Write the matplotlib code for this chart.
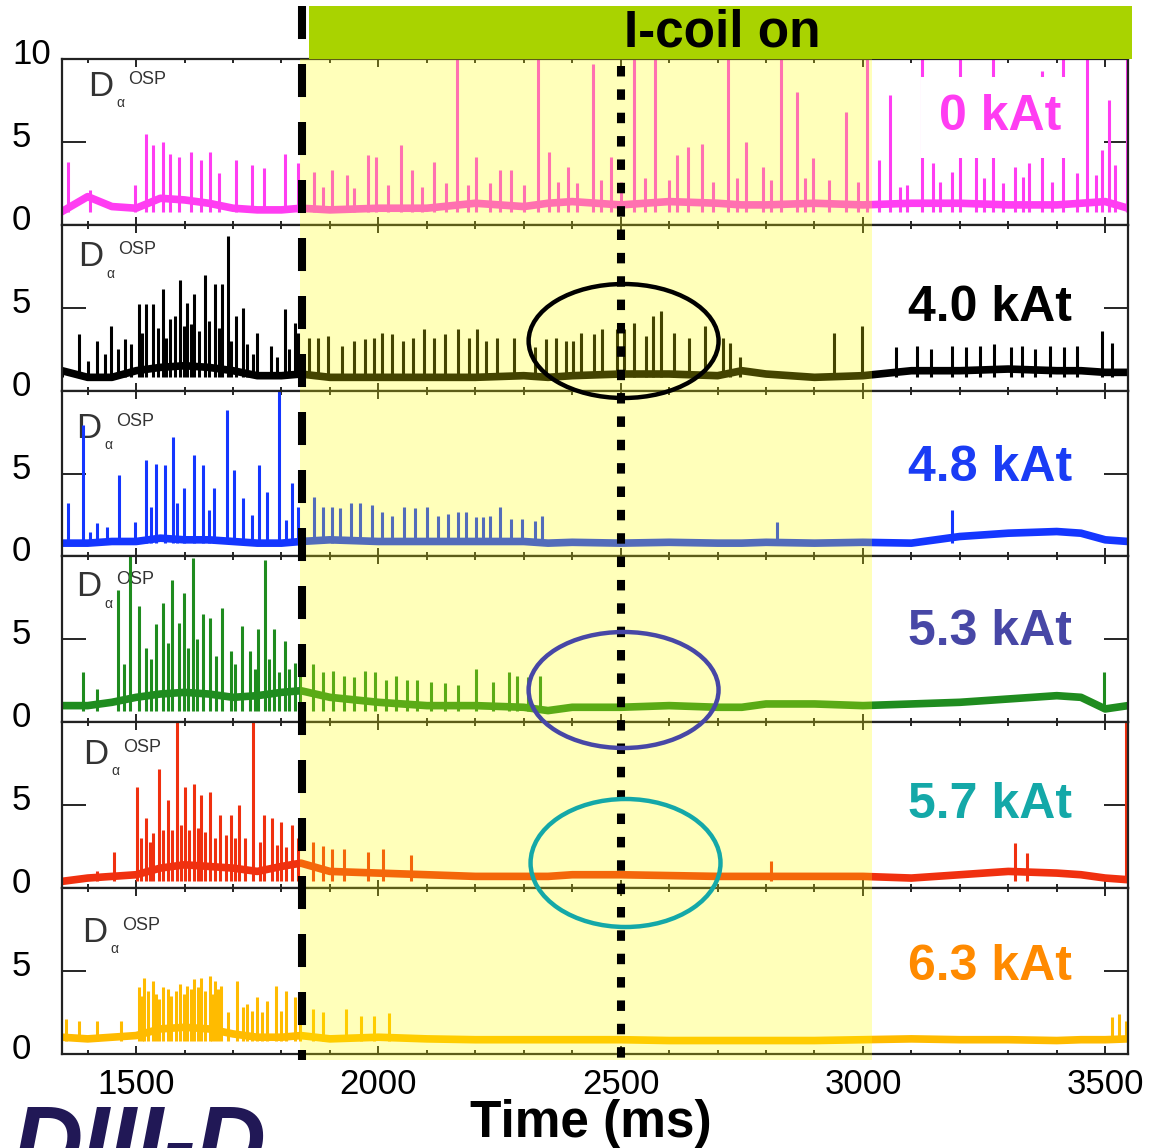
import matplotlib
matplotlib.use('Agg')
import matplotlib.pyplot as plt
import matplotlib.transforms as mtransforms
from matplotlib.patches import Ellipse, Rectangle, Arc
from matplotlib.ticker import MultipleLocator

plt.rcParams['font.family'] = ['Liberation Sans', 'DejaVu Sans']

# ------------------------------------------------------------
# Data: D-alpha (outer strike point), a.u.
# time in ms; one panel per I-coil current
# ------------------------------------------------------------
currents = ['0 kAt', '4.0 kAt', '4.8 kAt', '5.3 kAt', '5.7 kAt', '6.3 kAt']
trace_colors = ['#ff3df2', '#000000', '#1436ff', '#1f8c1f', '#f0300f', '#ffbb00']
label_colors = ['#ff3df2', '#000000', '#1a3cf5', '#4747a6', '#14a8a8', '#ff8a00']

base_t = [1347, 1400, 1450, 1500, 1550, 1600, 1650, 1700, 1750, 1800, 1840,
          1900, 2000, 2100, 2200, 2300, 2350, 2400, 2500, 2600, 2700, 2750,
          2800, 2900, 3000, 3100, 3200, 3300, 3400, 3450, 3500, 3547]

base_0 = [0.8, 1.7, 1.1, 1.0, 1.6, 1.5, 1.3, 1.0, 0.9, 0.9, 1.0, 0.9, 1.0, 1.0, 1.3, 1.1,
          1.3, 1.4, 1.2, 1.4, 1.3, 1.2, 1.2, 1.3, 1.2, 1.3, 1.3, 1.2, 1.2, 1.3, 1.4, 1.0]
base_40 = [1.2, 0.8, 0.8, 1.2, 1.4, 1.5, 1.4, 1.2, 0.9, 0.9, 1.0, 0.8, 0.8, 0.8, 0.8, 0.9,
           0.8, 0.9, 1.0, 1.0, 0.9, 1.2, 1.0, 0.8, 0.9, 1.2, 1.2, 1.3, 1.2, 1.2, 1.1, 1.1]
base_48 = [0.8, 0.8, 0.9, 0.9, 1.1, 1.0, 1.0, 0.9, 0.8, 0.8, 0.9, 1.0, 0.9, 0.9, 0.9, 0.9,
           0.8, 0.85, 0.8, 0.85, 0.8, 0.8, 0.85, 0.8, 0.85, 0.8, 1.2, 1.4, 1.5, 1.4, 1.0, 0.9]
base_53 = [1.0, 1.0, 1.2, 1.5, 1.7, 1.8, 1.7, 1.5, 1.6, 1.8, 1.9, 1.5, 1.2, 1.0, 1.0, 0.9,
           0.7, 0.9, 0.9, 1.0, 0.9, 0.9, 1.1, 1.1, 1.0, 1.1, 1.2, 1.4, 1.6, 1.5, 0.8, 1.0]
base_57 = [0.4, 0.6, 0.7, 0.8, 1.2, 1.4, 1.3, 1.2, 1.0, 1.3, 1.5, 1.0, 0.9, 0.8, 0.7, 0.7,
           0.7, 0.8, 0.8, 0.75, 0.7, 0.7, 0.7, 0.7, 0.7, 0.6, 0.8, 1.0, 0.9, 0.8, 0.6, 0.5]
base_63 = [1.0, 0.9, 1.0, 1.1, 1.5, 1.6, 1.5, 1.2, 1.0, 1.0, 1.1, 0.9, 1.0, 0.9, 0.85, 0.85,
           0.85, 0.85, 0.85, 0.8, 0.8, 0.8, 0.8, 0.8, 0.85, 0.9, 0.85, 0.85, 0.8, 0.85, 0.85, 0.9]

# ELM spikes: (time, peak)
spk_t_0 = [1359, 1405, 1498, 1520, 1534, 1555, 1570, 1588, 1613, 1634, 1652, 1670, 1706, 1739,
           1764, 1807, 1835,
           1867, 1885, 1904, 1936, 1950, 1979, 1996, 2020, 2046, 2069, 2090, 2115, 2140, 2162,
           2185, 2201, 2230, 2251, 2273, 2300, 2330, 2352, 2370, 2391, 2410, 2442, 2460, 2481,
           2500, 2528, 2550, 2570, 2600, 2617, 2639, 2668, 2690, 2722, 2740, 2758, 2794, 2810,
           2830, 2863, 2880, 2897, 2930, 2966, 2990, 3009,
           3033, 3056, 3077, 3090, 3122, 3144, 3160, 3184, 3201, 3234, 3250, 3269, 3290, 3313,
           3330, 3342, 3370, 3390, 3413, 3442, 3463, 3480, 3493, 3507, 3520, 3545]
spk_v_0 = [3.8, 2.1, 2.4, 5.5, 4.8, 5.0, 4.3, 4.1, 4.4, 3.9, 4.4, 3.1, 3.9, 3.6,
           3.4, 4.3, 3.7,
           3.2, 2.3, 3.3, 3.0, 2.2, 4.2, 4.1, 2.4, 4.8, 3.3, 2.3, 3.8, 2.5, 10.5,
           2.4, 4.1, 2.5, 3.3, 3.3, 2.4, 10.5, 4.4, 2.6, 3.5, 2.5, 9.7, 2.7, 4.1,
           2.6, 10.5, 2.8, 10.5, 2.7, 4.2, 4.7, 4.9, 2.6, 10.5, 2.8, 5.0, 3.5, 2.7,
           10.5, 8.0, 2.8, 4.0, 2.7, 6.8, 2.6, 10.5,
           3.9, 7.8, 2.3, 2.4, 10.5, 3.7, 2.6, 3.2, 10.5, 4.1, 2.8, 10.5, 2.5, 3.5,
           2.9, 3.7, 9.3, 2.6, 10.5, 3.1, 10.5, 3.0, 4.5, 7.5, 3.6, 10.5]

spk_t_40 = [1347, 1383, 1400, 1419, 1435, 1448, 1462, 1477, 1490, 1505, 1512, 1520, 1534, 1545,
            1555, 1562, 1570, 1580, 1591, 1598, 1606, 1613, 1620, 1630, 1642, 1650, 1663, 1670,
            1677, 1689, 1695, 1706, 1720, 1728, 1742, 1749, 1778, 1790, 1807, 1815, 1828, 1835,
            1857, 1875, 1896, 1924, 1950, 1972, 1990, 2007, 2029, 2051, 2072, 2094, 2115, 2137,
            2165, 2187, 2204, 2223, 2244, 2280, 2323, 2345, 2366, 2388, 2402, 2419, 2445, 2462,
            2492, 2507, 2528, 2553, 2567, 2584, 2610, 2642, 2675, 2711, 2725, 2746, 2940, 2998,
            3069, 3112, 3141, 3184, 3213, 3242, 3270, 3306, 3328, 3356, 3385, 3414, 3442, 3493, 3514]
spk_v_40 = [1.3, 3.4, 1.8, 3.0, 2.2, 3.9, 2.5, 3.1, 2.8, 5.2, 3.5, 5.2, 5.2, 3.8,
            6.1, 3.2, 4.3, 4.5, 6.7, 3.9, 5.3, 4.0, 5.8, 3.6, 7.0, 4.2, 6.4, 3.8,
            6.4, 9.3, 3.0, 4.5, 5.0, 2.8, 2.2, 3.5, 2.7, 2.0, 4.9, 2.5, 4.1, 3.5,
            3.2, 3.2, 3.3, 2.7, 3.0, 3.1, 3.2, 3.5, 3.4, 3.0, 3.2, 3.7, 3.2, 3.4,
            3.7, 3.2, 3.7, 3.0, 3.2, 3.2, 2.6, 3.1, 3.2, 3.0, 3.0, 3.5, 3.4, 3.7,
            3.7, 3.7, 4.1, 3.3, 4.5, 4.8, 3.5, 3.2, 3.9, 3.2, 2.9, 2.0, 3.5, 3.9,
            2.6, 2.7, 2.5, 2.7, 2.6, 2.7, 2.8, 2.6, 2.7, 2.5, 2.7, 2.6, 2.7, 3.6, 2.9]

spk_t_48 = [1359, 1390, 1405, 1419, 1440, 1465, 1498, 1520, 1530, 1541, 1560, 1577, 1585, 1598,
            1620, 1639, 1650, 1660, 1687, 1703, 1720, 1740, 1753, 1771, 1795, 1810, 1821, 1835,
            1867, 1885, 1904, 1921, 1943, 1962, 1986, 2007, 2029, 2053, 2075, 2101, 2122, 2144,
            2165, 2180, 2201, 2216, 2230, 2251, 2273, 2297, 2323, 2338, 2823, 3184]
spk_v_48 = [3.2, 7.9, 1.5, 2.0, 1.8, 4.9, 2.1, 5.8, 3.0, 5.6, 5.5, 7.2, 3.2, 4.1,
            6.1, 5.5, 2.8, 4.1, 8.8, 5.2, 3.5, 2.5, 5.5, 3.9, 10.1, 2.2, 4.4, 3.0,
            3.6, 3.0, 3.0, 2.9, 3.2, 3.2, 3.1, 2.7, 2.45, 3.0, 2.9, 3.0, 2.45, 2.55,
            2.7, 2.7, 2.35, 2.35, 2.45, 3.0, 2.25, 2.25, 2.15, 2.45, 2.1, 2.8]

spk_t_53 = [1390, 1420, 1462, 1475, 1488, 1505, 1520, 1530, 1541, 1555, 1565, 1574, 1588, 1598,
            1608, 1617, 1625, 1637, 1652, 1665, 1677, 1696, 1705, 1718, 1735, 1745, 1752, 1766,
            1775, 1785, 1795, 1807, 1815, 1828, 1838,
            1864, 1885, 1907, 1929, 1950, 1972, 1993, 2015, 2036, 2058, 2079, 2108, 2137, 2165,
            2201, 2237, 2269, 2287, 2309, 2333, 3497]
spk_v_53 = [3.0, 2.0, 8.0, 3.5, 10.1, 7.0, 4.5, 3.8, 5.9, 7.2, 4.8, 8.6, 6.0, 7.8,
            4.5, 9.9, 5.0, 6.5, 6.3, 4.0, 6.9, 4.3, 3.5, 5.8, 4.3, 3.2, 5.6, 9.8,
            3.8, 5.6, 3.0, 4.9, 3.2, 3.6, 3.5,
            3.5, 3.0, 3.1, 2.8, 2.7, 3.1, 3.0, 2.55, 2.8, 2.55, 2.55, 2.45, 2.35, 2.25,
            3.2, 2.45, 3.0, 2.8, 2.7, 2.8, 3.0]

spk_t_57 = [1419, 1455, 1502, 1510, 1520, 1528, 1534, 1548, 1556, 1565, 1575, 1584, 1592, 1600,
            1610, 1620, 1627, 1634, 1642, 1652, 1662, 1673, 1685, 1695, 1705, 1713, 1725, 1742,
            1755, 1764, 1781, 1790, 1799, 1810, 1821, 1835,
            1864, 1885, 1904, 1929, 1979, 2010, 2068, 2811, 3313, 3339, 3543]
spk_v_57 = [1.0, 2.2, 6.1, 3.0, 4.2, 2.8, 3.3, 7.2, 3.5, 5.3, 3.5, 10.1, 3.8, 6.1,
            3.5, 6.3, 3.6, 5.6, 3.4, 5.8, 3.0, 4.4, 3.2, 4.4, 3.0, 5.0, 3.0, 10.1,
            2.8, 4.4, 4.2, 2.6, 4.0, 2.5, 3.8, 3.0,
            2.8, 2.55, 2.35, 2.35, 2.15, 2.35, 2.0, 1.6, 2.7, 2.1, 10.5]

spk_t_63 = [1355, 1383, 1419, 1469, 1505, 1512, 1517, 1525, 1534, 1541, 1548, 1556, 1565, 1572,
            1583, 1591, 1598, 1606, 1613, 1620, 1627, 1634, 1642, 1652, 1657, 1663, 1669, 1675,
            1690, 1709, 1720, 1728, 1740, 1749, 1760, 1771, 1789, 1800, 1809, 1828, 1838,
            1864, 1885, 1933, 1964, 1990, 2022, 3514, 3529, 3543]
spk_v_63 = [2.1, 2.0, 2.0, 2.0, 4.0, 3.5, 4.6, 3.8, 4.4, 3.6, 3.3, 4.0, 3.9, 3.5,
            3.8, 4.2, 3.6, 4.1, 3.9, 4.5, 4.0, 4.6, 3.8, 4.7, 3.6, 4.4, 3.9, 4.1,
            2.5, 4.4, 2.8, 3.0, 2.6, 3.4, 2.5, 3.2, 4.1, 2.6, 3.8, 3.4, 3.0,
            2.7, 2.55, 2.7, 2.25, 2.25, 2.45, 2.2, 2.4, 2.0]

bases = [base_0, base_40, base_48, base_53, base_57, base_63]
spk_t = [spk_t_0, spk_t_40, spk_t_48, spk_t_53, spk_t_57, spk_t_63]
spk_v = [spk_v_0, spk_v_40, spk_v_48, spk_v_53, spk_v_57, spk_v_63]

t_min, t_max = 1347, 3547
xticks = [1500, 2000, 2500, 3000, 3500]
coil_on, shade_end, t_mark = 1843, 3019, 2500

# ------------------------------------------------------------
# Layout (pixel based, 1151 x 1148)
# ------------------------------------------------------------
W, H = 1151, 1148
fig = plt.figure(figsize=(W / 100, H / 100), dpi=100)
x0, x1 = 62, 1128
top0, ph = 59, 165.8

# D-alpha label positions (px) per panel
d_pos = [(88, 86), (78, 257), (76, 428), (76, 587), (83, 754), (82, 932)]
lab_y = [130, 321, 481, 645, 818, 980]

up = mtransforms.ScaledTranslation(0, 0.08, fig.dpi_scale_trans)

for i in range(6):
    top = top0 + ph * i
    ax = fig.add_axes([x0 / W, 1 - (top + ph) / H, (x1 - x0) / W, ph / H])
    ax.set_xlim(t_min, t_max)
    ax.set_ylim(0, 10)

    ax.vlines(spk_t[i], min(bases[i]), spk_v[i], color=trace_colors[i], lw=2.2, zorder=2)
    ax.plot(base_t, bases[i], color=trace_colors[i], lw=5.5, zorder=2,
            solid_joinstyle='round')

    ax.set_xticks(xticks)
    ax.xaxis.set_minor_locator(MultipleLocator(100))
    ax.tick_params(axis='x', which='both', direction='in', top=True, bottom=True,
                   labelbottom=(i == 5), labelsize=25, pad=10, width=1.2)
    ax.tick_params(axis='x', which='major', length=6)
    ax.tick_params(axis='x', which='minor', length=3)
    ax.set_yticks([0, 5, 10] if i == 0 else [0, 5])
    ax.tick_params(axis='y', direction='in', left=True, right=True, length=17,
                   width=1.2, labelsize=25, pad=36)
    for lbl in ax.get_yticklabels():
        lbl.set_horizontalalignment('left')
        lbl.set_transform(lbl.get_transform() + up)
    for s in ax.spines.values():
        s.set_linewidth(1.6)
        s.set_color('#222222')

    dx, dy = d_pos[i]
    ax.text(dx / W, 1 - dy / H, 'D', transform=fig.transFigure, fontsize=25,
            color='#333333', va='center', ha='left', zorder=1)
    ax.text((dx + 40) / W, 1 - (dy - 7) / H, 'OSP', transform=fig.transFigure,
            fontsize=13, color='#333333', va='center', ha='left', zorder=1)
    ax.text((dx + 28) / W, 1 - (dy + 17) / H, 'α', transform=fig.transFigure,
            fontsize=10, color='#333333', va='center', ha='left', zorder=1)

    lab_x = 1061 if i == 0 else 1072
    box = dict(facecolor='white', edgecolor='none', boxstyle='square,pad=0.35') if i == 0 else None
    fig.text(lab_x / W, 1 - lab_y[i] / H, currents[i], color=label_colors[i], fontsize=36,
             fontweight='bold', ha='right', va='baseline', bbox=box, zorder=3)

fig.text(591 / W, 1 - 1137 / H, 'Time (ms)', fontsize=37, fontweight='bold',
         ha='center', va='baseline')

# ------------------------------------------------------------
# Overlay: shaded I-coil window, markers, ellipses
# y in pixels from the top, x in ms
# ------------------------------------------------------------
ov = fig.add_axes([x0 / W, 0, (x1 - x0) / W, 1])
ov.set_xlim(t_min, t_max)
ov.set_ylim(H, 0)
ov.axis('off')
ov.set_zorder(10)

ov.add_patch(Rectangle((coil_on - 5, 59), shade_end - coil_on + 5, 1001,
                       facecolor='#ffff00', alpha=0.27, lw=0, zorder=1))
ov.add_patch(Rectangle((1857, 6), 3556 - 1857, 53, facecolor='#a9d300', lw=0,
                       clip_on=False, zorder=2))
ov.text(2710, 33, 'I-coil on', fontsize=37, fontweight='bold', ha='center', va='center')

ov.plot([coil_on, coil_on], [6, 1060], color='k', lw=5.8, linestyle=(0, (4.1, 3.1)),
        dash_capstyle='butt', clip_on=False, zorder=4)
ov.plot([t_mark, t_mark], [66, 1060], color='k', lw=5.8, linestyle=(0, (1.3, 1.6)),
        dash_capstyle='butt', clip_on=False, zorder=4)

ov.add_patch(Ellipse((2506, 341), 392, 114, fill=False, ec='k', lw=3.2, zorder=5))
ov.add_patch(Ellipse((2506, 690), 392, 116, fill=False, ec='#4747a6', lw=3.2, zorder=5))
ov.add_patch(Ellipse((2510, 863), 392, 128, fill=False, ec='#14a8a8', lw=3.2, zorder=5))

# cropped DIII-D logo at the bottom left
lg = fig.add_axes([0, 0, 300 / W, 60 / H])
lg.set_xlim(0, 300)
lg.set_ylim(1148, 1088)
lg.axis('off')
lg.add_patch(Arc((165, 1200), 270, 190, theta1=0, theta2=180, color='#cccccc', lw=4))
lg.text(12, 1104, 'DIII-D', fontsize=70, fontweight='bold', style='italic',
        color='#211856', va='top', ha='left', clip_on=False)

fig.savefig('out.png', dpi=100)
